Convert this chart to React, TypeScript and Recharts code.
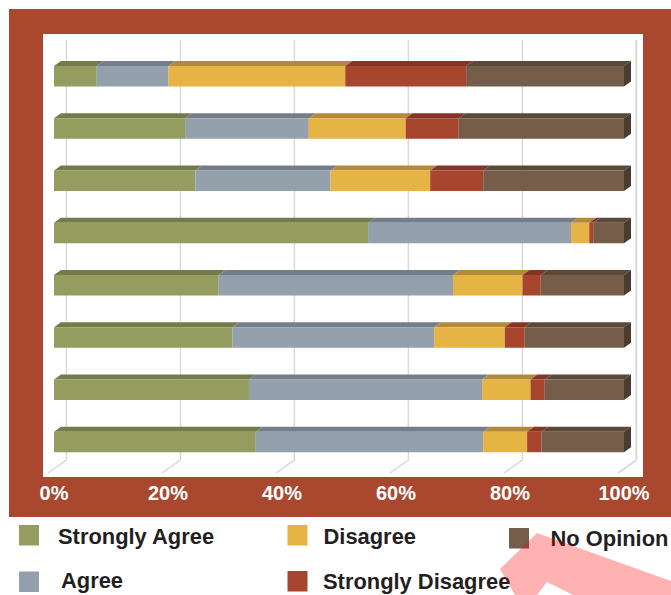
import React from 'react';
import { BarChart, Bar, XAxis, YAxis, CartesianGrid } from 'recharts';

const questions = ['Q1', 'Q2', 'Q3', 'Q4', 'Q5', 'Q6', 'Q7', 'Q8'];
const stronglyAgree = [7.5, 23.0, 24.8, 55.1, 28.9, 31.3, 34.2, 35.4];
const agree = [12.6, 21.7, 23.7, 35.6, 41.1, 35.4, 40.9, 39.9];
const disagree = [31.0, 17.0, 17.5, 3.2, 12.2, 12.4, 8.5, 7.7];
const stronglyDisagree = [21.2, 9.3, 9.3, 0.7, 3.2, 3.4, 2.5, 2.5];
const noOpinion = [27.7, 29.0, 24.7, 5.4, 14.6, 17.5, 13.9, 14.5];
const xTicks = [0, 20, 40, 60, 80, 100];

const data = questions.map((q, i) => ({
  q,
  sa: stronglyAgree[i],
  a: agree[i],
  d: disagree[i],
  sd: stronglyDisagree[i],
  no: noOpinion[i],
}));

const series = [
  { key: 'sa', name: 'Strongly Agree', front: '#949D5F', top: '#737B4B', side: '' },
  { key: 'a', name: 'Agree', front: '#94A0AB', top: '#737E88', side: '' },
  { key: 'd', name: 'Disagree', front: '#E6B345', top: '#B38A3A', side: '' },
  { key: 'sd', name: 'Strongly Disagree', front: '#A8452F', top: '#853524', side: '' },
  { key: 'no', name: 'No Opinion', front: '#765D4A', top: '#5A4838', side: '#4A3C2F' },
];

// legend layout (order follows series)
const legendLayout = [
  { sx: 19, sy: 525, tx: 58, ty: 543.5 },
  { sx: 19, sy: 571.5, tx: 61, ty: 588 },
  { sx: 287.5, sy: 525, tx: 323.5, ty: 544 },
  { sx: 287.5, sy: 571, tx: 323, ty: 589 },
  { sx: 509, sy: 528, tx: 550.5, ty: 545.5 },
];

const FONT = '"Liberation Sans", Arial, Helvetica, sans-serif';
const DX = 7;
const DY = 5;

const makeShape = (top: string, side: string) => (props: any) => {
  const { x, y, width, height, fill } = props;
  if (!width || width <= 0) return <g />;
  return (
    <g>
      <polygon
        points={`${x},${y} ${x + DX},${y - DY} ${x + width + DX},${y - DY} ${x + width},${y}`}
        fill={top}
      />
      <rect x={x} y={y} width={width} height={height} fill={fill} />
      {side ? (
        <polygon
          points={`${x + width},${y} ${x + width + DX},${y - DY} ${x + width + DX},${y + height - DY} ${x + width},${y + height}`}
          fill={side}
        />
      ) : null}
    </g>
  );
};

const GridLine = (p: any) => {
  const { x1, y1, y2 } = p;
  const gx = x1 + 12.4;
  return (
    <polyline
      key={p.key}
      points={`${gx},${y1 - 10} ${gx},${y2 - 8} ${x1 - 6},${y2 + 5}`}
      fill="none"
      stroke="#d9d9d9"
      strokeWidth={1.5}
    />
  );
};

const Tick = (p: any) => {
  const { x, y, payload } = p;
  return (
    <text
      x={x}
      y={y}
      dy="0.71em"
      textAnchor="middle"
      fill="#ffffff"
      fontSize={20}
      fontWeight="bold"
      fontFamily={FONT}
    >
      {`${payload.value}%`}
    </text>
  );
};

export default function App() {
  return (
    <div
      style={{
        position: 'absolute',
        left: 0,
        top: 0,
        width: 671,
        height: 595,
        background: '#ffffff',
        overflow: 'hidden',
        fontFamily: FONT,
      }}
    >
      <div style={{ position: 'absolute', left: 9, top: 9, width: 662, height: 508, background: '#A9472F' }} />
      <div style={{ position: 'absolute', left: 43, top: 34, width: 600, height: 443, background: '#ffffff' }} />
      <div style={{ position: 'absolute', left: 0, top: 0 }}>
        <BarChart
          width={671}
          height={595}
          data={data}
          layout="vertical"
          margin={{ top: 50, right: 47, bottom: 87, left: 54 }}
          barSize={20.5}
        >
          <CartesianGrid horizontal={false} vertical={GridLine} />
          <XAxis
            type="number"
            domain={[0, 100]}
            ticks={xTicks}
            height={40}
            tickSize={0}
            tickMargin={18}
            axisLine={false}
            tickLine={false}
            tick={<Tick />}
            interval={0}
          />
          <YAxis type="category" dataKey="q" hide />
          {series.map((s) => (
            <Bar
              key={s.key}
              dataKey={s.key}
              name={s.name}
              stackId="all"
              fill={s.front}
              shape={makeShape(s.top, s.side)}
              isAnimationActive={false}
            />
          ))}
        </BarChart>
      </div>
      <svg
        width={671}
        height={595}
        style={{ position: 'absolute', left: 0, top: 0, pointerEvents: 'none' }}
      >
        {series.map((s, i) => {
          const l = legendLayout[i];
          return (
            <g key={s.key}>
              <rect x={l.sx} y={l.sy} width={20} height={20.5} fill={s.front} />
              <text
                x={l.tx}
                y={l.ty}
                fontSize={21.9}
                fontWeight="bold"
                fill="#231F20"
                fontFamily={FONT}
              >
                {s.name}
              </text>
            </g>
          );
        })}
        <polygon
          points="537,533 671,581 671,595 573,595 547,582 537,595 515,595 500,569"
          fill="rgb(255,0,0)"
          fillOpacity={0.3}
        />
      </svg>
    </div>
  );
}
